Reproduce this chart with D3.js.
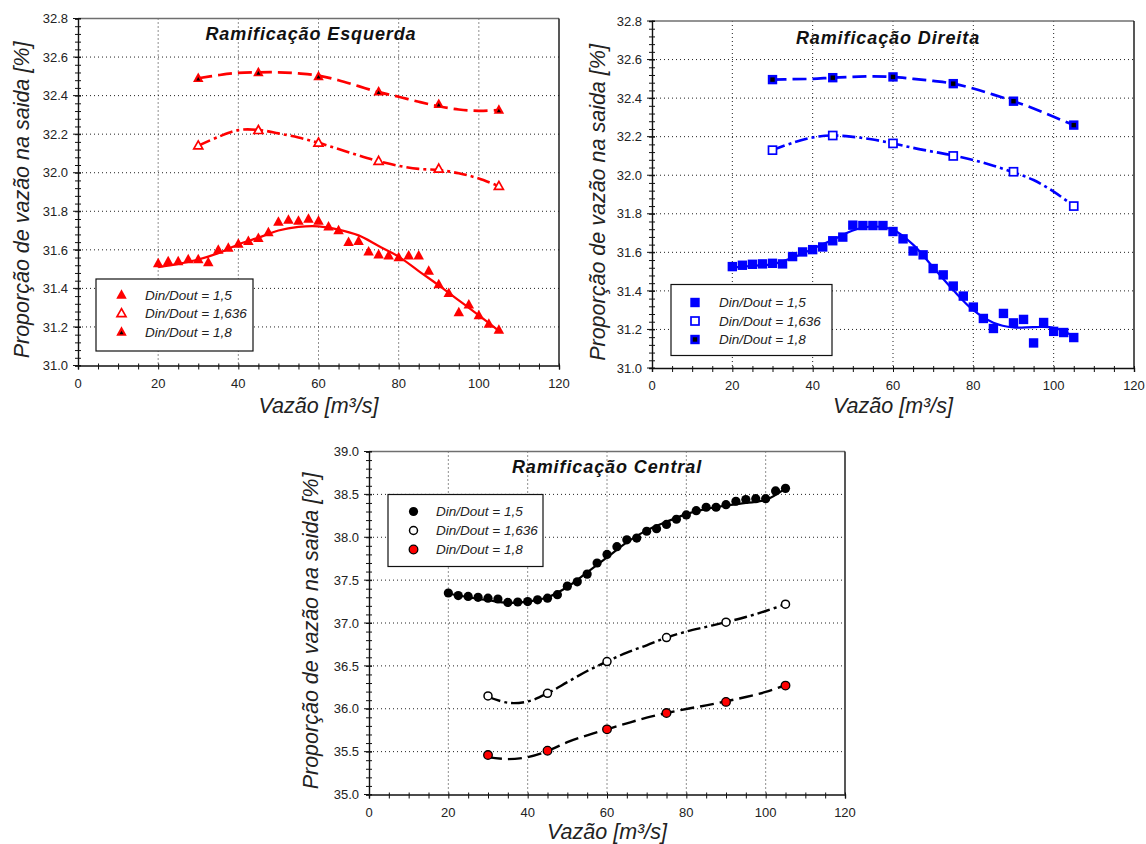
<!DOCTYPE html>
<html>
<head>
<meta charset="utf-8">
<script src="https://cdn.jsdelivr.net/npm/d3@7"></script>
<style>
  html, body { margin: 0; padding: 0; background: #ffffff; }
  svg { display: block; font-family: "Liberation Sans", Arial, sans-serif; }
</style>
</head>
<body>
<svg id="chart" width="1146" height="844"></svg>
<script>
// Flow rates (m³/s)
const flowDense = [20, 22.5, 25, 27.5, 30, 32.5, 35, 37.5, 40, 42.5, 45, 47.5, 50, 52.5, 55, 57.5, 60,
  62.5, 65, 67.5, 70, 72.5, 75, 77.5, 80, 82.5, 85, 87.5, 90, 92.5, 95, 97.5, 100, 102.5, 105];
const flowSparse = [30, 45, 60, 75, 90, 105];

// Trend-curve abscissae
const fitXDense = [20, 25, 30, 35, 40, 45, 50, 55, 60, 65, 70, 75, 80, 85, 90, 95, 100, 105];
const fitXSparse = [30, 35, 40, 45, 50, 55, 60, 65, 70, 75, 80, 85, 90, 95, 100, 105];

const legendLabels = ["Din/Dout = 1,5", "Din/Dout = 1,636", "Din/Dout = 1,8"];
const xTicks = [0, 20, 40, 60, 80, 100, 120];
const yTicksSide = [31.0, 31.2, 31.4, 31.6, 31.8, 32.0, 32.2, 32.4, 32.6, 32.8];
const yTicksCentral = [35.0, 35.5, 36.0, 36.5, 37.0, 37.5, 38.0, 38.5, 39.0];

// Left branch (Ramificação Esquerda)
const esq15 = [31.53, 31.54, 31.54, 31.55, 31.55, 31.535, 31.60, 31.61, 31.63, 31.645, 31.66, 31.69,
  31.745, 31.755, 31.75, 31.76, 31.75, 31.72, 31.70, 31.64, 31.645, 31.59, 31.575, 31.57, 31.56,
  31.57, 31.57, 31.49, 31.42, 31.375, 31.275, 31.315, 31.26, 31.215, 31.185];
const esq1636 = [32.14, 32.22, 32.155, 32.06, 32.02, 31.93];
const esq18 = [32.49, 32.52, 32.50, 32.42, 32.355, 32.325];
const esqFit15 = [31.51, 31.527, 31.55, 31.583, 31.628, 31.663, 31.70, 31.719, 31.722, 31.705,
  31.675, 31.62, 31.565, 31.49, 31.416, 31.338, 31.26, 31.18];
const esqFit1636 = [32.14, 32.186, 32.221, 32.222, 32.204, 32.183, 32.155, 32.123, 32.09, 32.06,
  32.036, 32.02, 32.014, 31.997, 31.97, 31.93];
const esqFit18 = [32.49, 32.506, 32.518, 32.521, 32.521, 32.515, 32.504, 32.48, 32.449, 32.418,
  32.394, 32.368, 32.345, 32.328, 32.321, 32.325];

// Right branch (Ramificação Direita)
const dir15 = [31.526, 31.533, 31.538, 31.54, 31.543, 31.54, 31.578, 31.602, 31.614, 31.628, 31.66,
  31.679, 31.741, 31.739, 31.739, 31.739, 31.708, 31.67, 31.607, 31.587, 31.516, 31.483, 31.425,
  31.373, 31.316, 31.257, 31.205, 31.283, 31.234, 31.252, 31.13, 31.236, 31.19, 31.184, 31.158];
const dir1636 = [32.13, 32.206, 32.165, 32.10, 32.018, 31.84];
const dir18 = [32.496, 32.506, 32.51, 32.475, 32.384, 32.26];
const dirFit15 = [31.521, 31.53, 31.538, 31.572, 31.618, 31.665, 31.713, 31.734, 31.717, 31.64,
  31.522, 31.404, 31.30, 31.235, 31.21, 31.212, 31.209, 31.165];
const dirFit1636 = [32.13, 32.168, 32.196, 32.206, 32.199, 32.185, 32.165, 32.142, 32.122, 32.103,
  32.079, 32.049, 32.015, 31.975, 31.915, 31.84];
const dirFit18 = [32.496, 32.498, 32.50, 32.506, 32.51, 32.513, 32.51, 32.50, 32.489, 32.475,
  32.45, 32.418, 32.384, 32.346, 32.303, 32.26];

// Central branch (Ramificação Central)
const cen15 = [37.35, 37.32, 37.31, 37.30, 37.29, 37.28, 37.24, 37.245, 37.25, 37.27, 37.29, 37.33,
  37.43, 37.48, 37.57, 37.70, 37.80, 37.89, 37.97, 37.99, 38.07, 38.10, 38.15, 38.21, 38.26,
  38.31, 38.35, 38.35, 38.38, 38.42, 38.44, 38.45, 38.45, 38.54, 38.57];
const cen1636 = [36.15, 36.18, 36.55, 36.83, 37.01, 37.22];
const cen18 = [35.46, 35.51, 35.76, 35.95, 36.08, 36.27];
const cenFit15 = [37.344, 37.30, 37.265, 37.235, 37.25, 37.30, 37.42, 37.59, 37.765, 37.94,
  38.08, 38.18, 38.27, 38.33, 38.37, 38.40, 38.435, 38.57];
const cenFit1636 = [36.14, 36.07, 36.085, 36.18, 36.31, 36.44, 36.55, 36.655, 36.74, 36.83,
  36.90, 36.955, 37.01, 37.07, 37.14, 37.22];
const cenFit18 = [35.436, 35.413, 35.436, 35.506, 35.61, 35.69, 35.76, 35.83, 35.896, 35.95,
  35.997, 36.04, 36.087, 36.137, 36.196, 36.274];

const svg = d3.select("#chart");
const DASH = "14,6";
const DASHDOT = "13,4,3,4";

// Marker drawers: each draws one symbol centred on (cx, cy)
function triPath(cx, cy, w, h) {
  return `M${cx},${cy - h * 0.6}L${cx + w / 2},${cy + h * 0.4}L${cx - w / 2},${cy + h * 0.4}Z`;
}
const markers = {
  triFill: (g, cx, cy, c) => g.append("path").attr("d", triPath(cx, cy, 10.5, 9.5)).attr("fill", c),
  triOpen: (g, cx, cy, c) => g.append("path").attr("d", triPath(cx, cy, 9, 8))
    .attr("fill", "#fff").attr("stroke", c).attr("stroke-width", 1.7),
  triDot: (g, cx, cy, c) => {
    g.append("path").attr("d", triPath(cx, cy, 10.5, 9.5)).attr("fill", c);
    g.append("path").attr("d", triPath(cx, cy + 0.8, 4, 3.6)).attr("fill", "#000");
  },
  sqFill: (g, cx, cy, c) => g.append("rect").attr("x", cx - 4.7).attr("y", cy - 4.7)
    .attr("width", 9.4).attr("height", 9.4).attr("fill", c),
  sqOpen: (g, cx, cy, c) => g.append("rect").attr("x", cx - 4).attr("y", cy - 4)
    .attr("width", 8).attr("height", 8).attr("fill", "#fff").attr("stroke", c).attr("stroke-width", 1.7),
  sqDot: (g, cx, cy, c) => {
    g.append("rect").attr("x", cx - 4.7).attr("y", cy - 4.7).attr("width", 9.4).attr("height", 9.4).attr("fill", c);
    g.append("rect").attr("x", cx - 2.2).attr("y", cy - 2.2).attr("width", 4.4).attr("height", 4.4).attr("fill", "#000");
  },
  cirFill: (g, cx, cy) => g.append("circle").attr("cx", cx).attr("cy", cy).attr("r", 4.6).attr("fill", "#000"),
  cirOpen: (g, cx, cy) => g.append("circle").attr("cx", cx).attr("cy", cy).attr("r", 4)
    .attr("fill", "#fff").attr("stroke", "#000").attr("stroke-width", 1.5),
  cirRed: (g, cx, cy) => g.append("circle").attr("cx", cx).attr("cy", cy).attr("r", 4.3)
    .attr("fill", "#ff0000").attr("stroke", "#000").attr("stroke-width", 1.3)
};

const panels = [
  {
    title: "Ramificação Esquerda", color: "#ff0000",
    left: 78, right: 559, top: 18.5, bottom: 365.5,
    yDomain: [31.0, 32.8], yTicks: yTicksSide, yMinor: 0.04,
    titleX: 311, titleY: 40, yLabelX: 29, xLabelY: 413,
    legend: { x: 96, y: 279, w: 157, h: 72, mx: 121.5, tx: 145, rows: [295, 313.5, 332] },
    series: [
      { x: flowDense, y: esq15, fx: fitXDense, fy: esqFit15, mark: "triFill", dash: null, lw: 2.2 },
      { x: flowSparse, y: esq1636, fx: fitXSparse, fy: esqFit1636, mark: "triOpen", dash: DASHDOT, lw: 2.6 },
      { x: flowSparse, y: esq18, fx: fitXSparse, fy: esqFit18, mark: "triDot", dash: DASH, lw: 2.7 }
    ]
  },
  {
    title: "Ramificação Direita", color: "#0000ff",
    left: 652, right: 1134, top: 21, bottom: 368,
    yDomain: [31.0, 32.8], yTicks: yTicksSide, yMinor: 0.04,
    titleX: 888, titleY: 44, yLabelX: 605, xLabelY: 413,
    legend: { x: 671, y: 284.5, w: 161, h: 71, mx: 695, tx: 719, rows: [302.5, 321, 339.5] },
    series: [
      { x: flowDense, y: dir15, fx: fitXDense, fy: dirFit15, mark: "sqFill", dash: null, lw: 2.2 },
      { x: flowSparse, y: dir1636, fx: fitXSparse, fy: dirFit1636, mark: "sqOpen", dash: DASHDOT, lw: 2.6 },
      { x: flowSparse, y: dir18, fx: fitXSparse, fy: dirFit18, mark: "sqDot", dash: DASH, lw: 2.7 }
    ]
  },
  {
    title: "Ramificação Central", color: "#000000",
    left: 369, right: 845, top: 451.5, bottom: 794.5,
    yDomain: [35.0, 39.0], yTicks: yTicksCentral, yMinor: 0.1,
    titleX: 607, titleY: 473, yLabelX: 318, xLabelY: 839,
    legend: { x: 388, y: 494.5, w: 155, h: 72, mx: 413.5, tx: 436, rows: [511.5, 530.5, 549.5] },
    series: [
      { x: flowDense, y: cen15, fx: fitXDense, fy: cenFit15, mark: "cirFill", dash: null, lw: 2.2 },
      { x: flowSparse, y: cen1636, fx: fitXSparse, fy: cenFit1636, mark: "cirOpen", dash: DASHDOT, lw: 2.4 },
      { x: flowSparse, y: cen18, fx: fitXSparse, fy: cenFit18, mark: "cirRed", dash: DASH, lw: 2.4 }
    ]
  }
];

panels.forEach(p => {
  const x = d3.scaleLinear().domain([0, 120]).range([p.left, p.right]);
  const y = d3.scaleLinear().domain(p.yDomain).range([p.bottom, p.top]);
  const g = svg.append("g");

  // dotted grid at interior major ticks
  const grid = g.append("g").attr("stroke", "#222").attr("stroke-width", 1).attr("stroke-dasharray", "1,3");
  xTicks.slice(1, -1).forEach(v => grid.append("line")
    .attr("x1", x(v)).attr("x2", x(v)).attr("y1", p.top).attr("y2", p.bottom));
  p.yTicks.slice(1, -1).forEach(v => grid.append("line")
    .attr("x1", p.left).attr("x2", p.right).attr("y1", y(v)).attr("y2", y(v)));

  // frame: top and right edges
  g.append("line").attr("x1", p.left).attr("x2", p.right).attr("y1", p.top).attr("y2", p.top)
    .attr("stroke", "#6f6f6f").attr("stroke-width", 1.4);
  g.append("line").attr("x1", p.right).attr("x2", p.right).attr("y1", p.top).attr("y2", p.bottom)
    .attr("stroke", "#111").attr("stroke-width", 1.4);

  // x axis
  const xMinor = d3.range(0, 120.001, 5);
  const xa = g.append("g").attr("transform", `translate(0,${p.bottom})`)
    .call(d3.axisBottom(x).tickValues(xMinor).tickSize(4).tickFormat(""));
  xa.select(".domain").attr("stroke", "#111").attr("stroke-width", 1.4);
  xa.selectAll(".tick line").attr("y1", -2).attr("y2", 4).attr("stroke", "#111");
  xTicks.forEach(v => g.append("text").attr("x", x(v)).attr("y", p.bottom + 22)
    .attr("text-anchor", "middle").attr("font-size", 13).attr("fill", "#222").text(v));

  // y axis
  const [y0, y1] = p.yDomain;
  const nMinor = Math.round((y1 - y0) / p.yMinor);
  const yMinorVals = d3.range(nMinor + 1).map(i => y0 + i * p.yMinor);
  const ya = g.append("g").attr("transform", `translate(${p.left},0)`)
    .call(d3.axisLeft(y).tickValues(yMinorVals).tickSize(3).tickFormat(""));
  ya.select(".domain").attr("stroke", "#111").attr("stroke-width", 1.4);
  ya.selectAll(".tick line").attr("x1", -3).attr("x2", 3).attr("stroke", "#111");
  p.yTicks.forEach(v => {
    g.append("line").attr("x1", p.left - 5).attr("x2", p.left + 3).attr("y1", y(v)).attr("y2", y(v))
      .attr("stroke", "#111");
    g.append("text").attr("x", p.left - 10).attr("y", y(v)).attr("dy", "0.36em")
      .attr("text-anchor", "end").attr("font-size", 13).attr("fill", "#222").text(v.toFixed(1));
  });

  // trend curves
  const line = d3.line().x(d => x(d[0])).y(d => y(d[1])).curve(d3.curveCatmullRom.alpha(0.5));
  p.series.forEach(s => {
    g.append("path").datum(d3.zip(s.fx, s.fy)).attr("d", line)
      .attr("fill", "none").attr("stroke", p.color).attr("stroke-width", s.lw)
      .attr("stroke-dasharray", s.dash).attr("stroke-linecap", "butt");
  });

  // data markers
  p.series.forEach(s => {
    const mg = g.append("g");
    s.x.forEach((xv, i) => markers[s.mark](mg, x(xv), y(s.y[i]), p.color));
  });

  // legend
  const L = p.legend;
  g.append("rect").attr("x", L.x).attr("y", L.y).attr("width", L.w).attr("height", L.h)
    .attr("fill", "#fff").attr("stroke", "#111").attr("stroke-width", 1.2);
  p.series.forEach((s, i) => {
    markers[s.mark](g, L.mx, L.rows[i], p.color);
    g.append("text").attr("x", L.tx).attr("y", L.rows[i]).attr("dy", "0.36em")
      .attr("font-size", 13.5).attr("font-style", "italic").attr("fill", "#222").text(legendLabels[i]);
  });

  // title and axis titles
  g.append("text").attr("x", p.titleX).attr("y", p.titleY).attr("text-anchor", "middle")
    .attr("font-size", 18).attr("font-weight", "bold").attr("font-style", "italic")
    .attr("letter-spacing", 0.9).attr("fill", "#111").text(p.title);
  g.append("text").attr("x", (p.left + p.right) / 2).attr("y", p.xLabelY).attr("text-anchor", "middle")
    .attr("font-size", 21.5).attr("font-style", "italic").attr("fill", "#222").text("Vazão [m³/s]");
  g.append("text").attr("transform", `translate(${p.yLabelX},${(p.top + p.bottom) / 2 + 8}) rotate(-90)`)
    .attr("text-anchor", "middle").attr("font-size", 21.5).attr("font-style", "italic")
    .attr("fill", "#222").text("Proporção de vazão na saida [%]");
});
</script>
</body>
</html>
